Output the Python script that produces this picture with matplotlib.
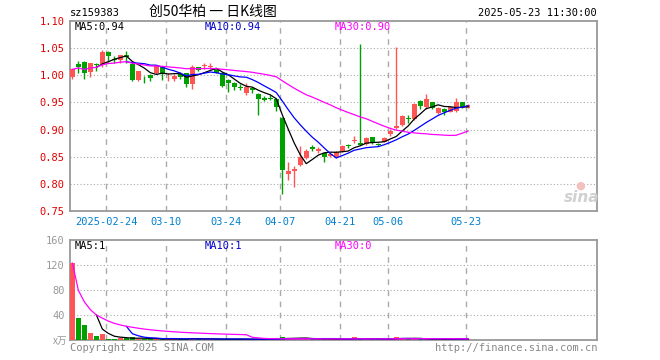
import numpy as np
import matplotlib
matplotlib.use("Agg")
import matplotlib.pyplot as plt

# ---------------- data ----------------
opens = [0.997, 1.021, 1.025, 1.006, 1.021, 1.021, 1.043, 1.030, 1.029, 1.037,
         1.021, 0.992, 0.997, 1.001, 1.005, 1.017, 0.998, 0.993, 1.002, 1.004,
         0.984, 1.015, 1.017, 1.015, 1.011, 1.005, 0.992, 0.986, 0.978, 0.968,
         0.977, 0.966, 0.958, 0.959, 0.957, 0.922, 0.818, 0.823, 0.834, 0.848,
         0.867, 0.861, 0.856, 0.852, 0.850, 0.860, 0.872, 0.879, 0.875, 0.874,
         0.886, 0.874, 0.878, 0.891, 0.903, 0.909, 0.922, 0.920, 0.953, 0.941,
         0.950, 0.931, 0.938, 0.933, 0.934, 0.950, 0.940]
highs = [1.012, 1.026, 1.027, 1.023, 1.022, 1.047, 1.044, 1.036, 1.038, 1.045,
         1.022, 1.008, 0.998, 1.002, 1.019, 1.018, 1.004, 1.002, 1.006, 1.005,
         1.019, 1.016, 1.022, 1.022, 1.013, 1.006, 0.993, 0.987, 0.984, 0.986,
         0.978, 0.967, 0.962, 0.963, 0.958, 0.923, 0.841, 0.833, 0.869, 0.865,
         0.872, 0.867, 0.857, 0.857, 0.860, 0.872, 0.873, 0.888, 1.057, 0.886,
         0.887, 0.875, 0.886, 0.901, 1.053, 0.927, 0.927, 0.949, 0.955, 0.966,
         0.951, 0.942, 0.939, 0.943, 0.958, 0.951, 0.947]
lows = [0.994, 1.004, 0.993, 0.996, 1.007, 1.016, 1.025, 1.022, 1.022, 1.022,
        0.990, 0.989, 0.986, 0.990, 1.003, 0.991, 0.989, 0.989, 0.994, 0.979,
        0.975, 1.007, 1.012, 1.011, 1.004, 0.979, 0.970, 0.973, 0.973, 0.964,
        0.968, 0.926, 0.953, 0.954, 0.934, 0.782, 0.808, 0.794, 0.832, 0.846,
        0.861, 0.857, 0.840, 0.850, 0.848, 0.858, 0.866, 0.875, 0.871, 0.872,
        0.874, 0.870, 0.877, 0.889, 0.901, 0.907, 0.913, 0.918, 0.938, 0.938,
        0.937, 0.929, 0.926, 0.932, 0.932, 0.940, 0.939]
closes = [1.011, 1.016, 1.005, 1.022, 1.019, 1.043, 1.036, 1.028, 1.037, 1.034,
          0.992, 1.007, 0.996, 0.995, 1.018, 1.004, 0.999, 0.999, 0.996, 0.984,
          1.016, 1.010, 1.018, 1.016, 1.005, 0.981, 0.985, 0.978, 0.977, 0.978,
          0.973, 0.957, 0.955, 0.957, 0.942, 0.826, 0.824, 0.827, 0.849, 0.860,
          0.864, 0.864, 0.849, 0.855, 0.859, 0.869, 0.870, 0.880, 0.872, 0.884,
          0.875, 0.872, 0.885, 0.897, 0.907, 0.925, 0.919, 0.948, 0.944, 0.957,
          0.940, 0.939, 0.933, 0.941, 0.950, 0.942, 0.945]
# volume, unit: 万
volumes = [123, 35.7, 24, 11.2, 6.4, 9.6, 1.5, 1.5, 3.7, 2.5,
           4.8, 2.0, 1.5, 1.5, 2.0, 1.5, 1.5, 1.5, 1.2, 2.0,
           3.7, 1.5, 1.0, 1.0, 1.2, 2.0, 1.5, 1.2, 1.0, 1.5,
           1.2, 2.0, 1.0, 1.0, 1.5, 5.3, 3.7, 2.0, 2.5, 2.0,
           1.5, 1.5, 1.5, 1.0, 1.2, 1.5, 1.0, 5.0, 2.0, 1.5,
           1.5, 1.0, 1.2, 2.0, 5.0, 3.0, 1.5, 2.0, 1.5, 1.5,
           1.0, 1.0, 1.0, 1.0, 3.0, 3.0, 1.0]

tick_labels = ["2025-02-24", "03-10", "03-24", "04-07", "04-21", "05-06", "05-23"]
tick_index = [6, 16, 26, 35, 45, 53, 66]

price_ticks = [0.75, 0.80, 0.85, 0.90, 0.95, 1.00, 1.05, 1.10]
vol_ticks = [40, 80, 120, 160]

# ---------------- helpers ----------------
o = np.array(opens); h = np.array(highs); l = np.array(lows); c = np.array(closes)
v = np.array(volumes, dtype=float)
x = np.arange(len(c))
up = c >= o

def rolling(a, n):
    out = np.full(len(a), np.nan)
    for i in range(n - 1, len(a)):
        out[i] = a[i - n + 1:i + 1].mean()
    return out

def rolling30(a):
    # sina draws MA30 from day one (expanding mean until 30 days exist)
    out = np.zeros(len(a))
    for i in range(len(a)):
        out[i] = a[max(0, i - 29):i + 1].mean()
    return out

RED = "#ff5555"
GREEN = "#00a000"
GRID = "#aaaaaa"
MONO = "DejaVu Sans Mono"
W, H = 660, 360

fig = plt.figure(figsize=(6.6, 3.6), dpi=100)
fig.patch.set_facecolor("white")

def px(xp, yp):
    return xp / W, 1 - yp / H

ax = fig.add_axes([70 / W, 1 - 211 / H, 527 / W, 190 / H])
axv = fig.add_axes([70 / W, 1 - 340 / H, 527 / W, 100 / H])

xlim = (-0.4, 87.5)
tick_x = [t - 0.33 for t in tick_index]

# ---------------- price panel ----------------
colors = [RED if u else GREEN for u in up]
ax.vlines(x, l, h, colors=colors, lw=1, zorder=2)
body_lo = np.minimum(o, c)
body_h = np.maximum(np.abs(c - o), 0.0015)
ax.bar(x, body_h, bottom=body_lo, width=0.8, color=colors, lw=0, zorder=3)

ax.plot(x, rolling(c, 5), color="black", lw=0.9, zorder=4)
ax.plot(x, rolling(c, 10), color="#0000ff", lw=0.9, zorder=4)
ax.plot(x, rolling30(c), color="#ff00ff", lw=0.9, zorder=4)

ax.set_xlim(*xlim)
ax.set_ylim(0.75, 1.10)
ax.set_yticks(price_ticks)
ax.set_yticklabels(["%.2f" % p for p in price_ticks], color="#e00000",
                   fontsize=7.5, family=MONO)
ax.set_xticks(tick_x)
ax.set_xticklabels(tick_labels, color="#0080d0", fontsize=7.5, family=MONO)
ax.tick_params(length=0, pad=4)
for p in price_ticks[1:-1]:
    ax.axhline(p, color=GRID, lw=0.8, ls=(0, (1, 2)), zorder=1)
for t in tick_x:
    ax.axvline(t, color=GRID, lw=1, ls=(0, (4, 4)), zorder=1)
for s in ax.spines.values():
    s.set_color("#999999")
    s.set_linewidth(1.3)

ma5 = rolling(c, 5)[-1]; ma10 = rolling(c, 10)[-1]; ma30 = rolling30(c)[-1]
ax.text(*px(75, 27), "MA5:%.2f" % ma5, transform=fig.transFigure,
        family=MONO, fontsize=7.5, color="black", va="center")
ax.text(*px(205, 27), "MA10:%.2f" % ma10, transform=fig.transFigure,
        family=MONO, fontsize=7.5, color="#0000cc", va="center")
ax.text(*px(335, 27), "MA30:%.2f" % ma30, transform=fig.transFigure,
        family=MONO, fontsize=7.5, color="#ff00ff", va="center")

# watermark
fig.text(*px(582, 197), "sina", family="DejaVu Sans", fontsize=11,
         style="italic", weight="bold", color="#d0d0d0", ha="center", va="center")
fig.text(*px(580, 186), "●", fontsize=8, color="#f3c0c0", ha="center", va="center")

# ---------------- volume panel ----------------
axv.bar(x, v, width=0.8, color=colors, lw=0, zorder=3)
axv.plot(x, rolling(v, 5), color="black", lw=0.9, zorder=4)
axv.plot(x, rolling(v, 10), color="#0000ff", lw=0.9, zorder=4)
axv.plot(x, rolling30(v), color="#ff00ff", lw=0.9, zorder=4)
axv.set_xlim(*xlim)
axv.set_ylim(0, 160)
axv.set_xticks([])
axv.set_yticks(vol_ticks)
axv.set_yticklabels([str(t) for t in vol_ticks], color="#999999",
                    fontsize=7.5, family=MONO)
axv.tick_params(length=0, pad=4)
for t in vol_ticks[:-1]:
    axv.axhline(t, color=GRID, lw=0.8, ls=(0, (1, 2)), zorder=1)
for t in tick_x:
    axv.axvline(t, color=GRID, lw=1, ls=(0, (4, 4)), zorder=1)
for s in axv.spines.values():
    s.set_color("#999999")
    s.set_linewidth(1.3)

fig.text(*px(67, 341), "x万", family=["Noto Sans CJK SC", "DejaVu Sans"],
         fontsize=7, color="#999999", ha="right", va="center", style="italic")
fig.text(*px(75, 246), "MA5:1", family=MONO, fontsize=7.5, color="black", va="center")
fig.text(*px(205, 246), "MA10:1", family=MONO, fontsize=7.5, color="#0000cc", va="center")
fig.text(*px(335, 246), "MA30:0", family=MONO, fontsize=7.5, color="#ff00ff", va="center")

# ---------------- header / footer ----------------
fig.text(*px(70, 13), "sz159383", family=MONO, fontsize=7.5, color="black", va="center")
fig.text(*px(213, 12), "创50华柏 一 日K线图",
         family=["Noto Sans CJK SC", "DejaVu Sans"], fontsize=10,
         color="black", ha="center", va="center")
fig.text(*px(597, 13), "2025-05-23 11:30:00", family=MONO, fontsize=7.5,
         color="black", ha="right", va="center")
fig.text(*px(70, 348), "Copyright 2025 SINA.COM", family=MONO, fontsize=7.5,
         color="#888888", va="center")
fig.text(*px(597, 348), "http://finance.sina.com.cn", family=MONO, fontsize=7.5,
         color="#888888", ha="right", va="center")

fig.savefig("out.png", dpi=100)
